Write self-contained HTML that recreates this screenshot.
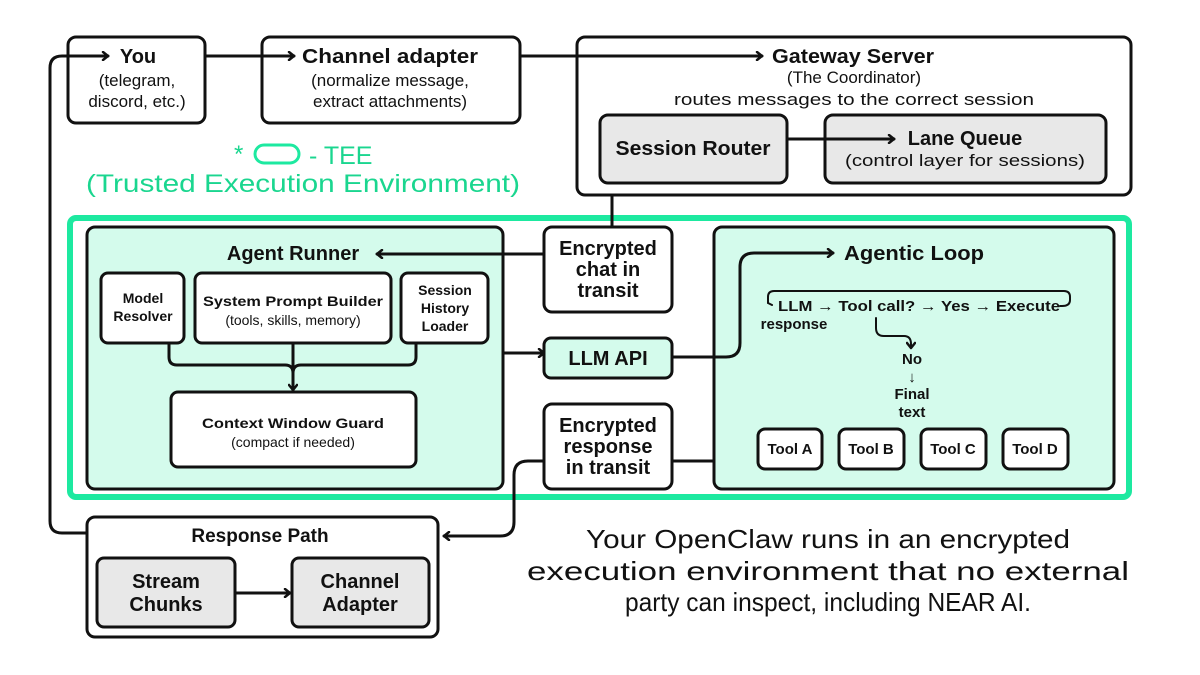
<!DOCTYPE html>
<html><head><meta charset="utf-8"><style>
html,body{margin:0;padding:0;background:#fff;}
svg{display:block;}
text{font-family:"Liberation Sans","DejaVu Sans",sans-serif;fill:#111;}
.b{font-weight:bold;}
</style></head><body>
<svg width="1200" height="675" viewBox="0 0 1200 675" xmlns="http://www.w3.org/2000/svg">
<defs>
<marker id="a" markerWidth="10" markerHeight="10" refX="7" refY="5" orient="auto" markerUnits="userSpaceOnUse">
<path d="M2,1 L7,5 L2,9" fill="none" stroke="#111" stroke-width="2.5" stroke-linecap="round" stroke-linejoin="round"/>
</marker>
</defs>
<g stroke="#111" stroke-width="3" fill="none">
<rect x="68" y="37" width="137" height="86" rx="8" fill="#fff"/>
<rect x="262" y="37" width="258" height="86" rx="8" fill="#fff"/>
<rect x="577" y="37" width="554" height="158" rx="8" fill="#fff"/>
<rect x="600" y="115" width="187" height="68" rx="8" fill="#e8e8e8"/>
<rect x="825" y="115" width="281" height="68" rx="8" fill="#e8e8e8"/>
</g>
<rect x="70" y="218" width="1059" height="279" rx="6" fill="#fff" stroke="#1de9a0" stroke-width="6"/>
<g stroke="#111" stroke-width="3" fill="none">
<rect x="87" y="227" width="416" height="262" rx="8" fill="#d4fbec"/>
<rect x="101" y="273" width="83" height="70" rx="7" fill="#fff"/>
<rect x="195" y="273" width="196" height="70" rx="7" fill="#fff"/>
<rect x="401" y="273" width="87" height="70" rx="7" fill="#fff"/>
<rect x="171" y="392" width="245" height="75" rx="7" fill="#fff"/>
<rect x="544" y="227" width="128" height="85" rx="8" fill="#fff"/>
<rect x="544" y="338" width="128" height="40" rx="7" fill="#d4fbec"/>
<rect x="544" y="404" width="128" height="85" rx="8" fill="#fff"/>
<rect x="714" y="227" width="400" height="262" rx="8" fill="#d4fbec"/>
<rect x="758" y="429" width="64" height="40" rx="7" fill="#fff"/>
<rect x="839" y="429" width="65" height="40" rx="7" fill="#fff"/>
<rect x="921" y="429" width="65" height="40" rx="7" fill="#fff"/>
<rect x="1003" y="429" width="65" height="40" rx="7" fill="#fff"/>
<rect x="87" y="517" width="351" height="120" rx="8" fill="#fff"/>
<rect x="97" y="558" width="138" height="69" rx="7" fill="#e8e8e8"/>
<rect x="292" y="558" width="137" height="69" rx="7" fill="#e8e8e8"/>
</g>
<g stroke="#111" stroke-width="3" fill="none" stroke-linecap="round">
<path d="M87,533 H62 Q50,533 50,521 V68 Q50,56 62,56 H108" marker-end="url(#a)"/>
<path d="M205,56 H294" marker-end="url(#a)"/>
<path d="M520,56 H762" marker-end="url(#a)"/>
<path d="M787,139 H894" marker-end="url(#a)"/>
<path d="M612,195 V227"/>
<path d="M544,254 H377" marker-end="url(#a)"/>
<path d="M503,353 H544" marker-end="url(#a)"/>
<path d="M672,357 H726 Q740,357 740,343 V267 Q740,253 754,253 H833" marker-end="url(#a)"/>
<path d="M672,461 H714"/>
<path d="M544,461 H528 Q514,461 514,475 V522 Q514,536 500,536 H444" marker-end="url(#a)"/>
<path d="M235,593 H290" marker-end="url(#a)"/>
<path d="M169,343 V357 Q169,365 177,365 H285 Q293,365 293,373 V390" marker-end="url(#a)"/>
<path d="M293,343 V390"/>
<path d="M416,343 V357 Q416,365 408,365 H301 Q293,365 293,373"/>
<path d="M768,303 V297 Q768,291 774,291 H1064 Q1070,291 1070,297 V300 Q1070,306 1062,306 H1060" stroke-width="2"/>
<path d="M768,303 L772,305" stroke-width="2"/>
<path d="M876,318 V328 Q876,336 884,336 H904 Q911,336 911,344 V348" stroke-width="2" marker-end="url(#a)"/>
</g>
<g text-anchor="middle" lengthAdjust="spacingAndGlyphs">
<text x="138" y="63" font-size="20" class="b">You</text>
<text x="137" y="86" font-size="17">(telegram,</text>
<text x="137" y="107" font-size="17">discord, etc.)</text>
<text x="390" y="63" font-size="20" class="b" textLength="176" lengthAdjust="spacingAndGlyphs">Channel adapter</text>
<text x="390" y="86" font-size="17">(normalize message,</text>
<text x="390" y="107" font-size="17">extract attachments)</text>
<text x="853" y="63" font-size="20" class="b" textLength="162" lengthAdjust="spacingAndGlyphs">Gateway Server</text>
<text x="854" y="83" font-size="17">(The Coordinator)</text>
<text x="854" y="105" font-size="17" textLength="360" lengthAdjust="spacingAndGlyphs">routes messages to the correct session</text>
<text x="693" y="155" font-size="20" class="b" textLength="155" lengthAdjust="spacingAndGlyphs">Session Router</text>
<text x="965" y="145" font-size="20" class="b">Lane Queue</text>
<text x="965" y="166" font-size="17" textLength="240" lengthAdjust="spacingAndGlyphs">(control layer for sessions)</text>
<text x="303" y="192" font-size="25" style="fill:#1ad68f" textLength="434" lengthAdjust="spacingAndGlyphs">(Trusted Execution Environment)</text>
<text x="293" y="260" font-size="20" class="b">Agent Runner</text>
<text x="143" y="303" font-size="14" class="b">Model</text>
<text x="143" y="321" font-size="14" class="b">Resolver</text>
<text x="293" y="306" font-size="14" class="b" textLength="180" lengthAdjust="spacingAndGlyphs">System Prompt Builder</text>
<text x="293" y="325" font-size="14">(tools, skills, memory)</text>
<text x="445" y="295" font-size="14" class="b">Session</text>
<text x="445" y="313" font-size="14" class="b">History</text>
<text x="445" y="331" font-size="14" class="b">Loader</text>
<text x="293" y="428" font-size="14" class="b" textLength="182" lengthAdjust="spacingAndGlyphs">Context Window Guard</text>
<text x="293" y="447" font-size="14">(compact if needed)</text>
<text x="608" y="255" font-size="20" class="b">Encrypted</text>
<text x="608" y="276" font-size="20" class="b">chat in</text>
<text x="608" y="297" font-size="20" class="b">transit</text>
<text x="608" y="365" font-size="20" class="b">LLM API</text>
<text x="608" y="432" font-size="20" class="b">Encrypted</text>
<text x="608" y="453" font-size="20" class="b">response</text>
<text x="608" y="474" font-size="20" class="b">in transit</text>
<text x="914" y="260" font-size="20" class="b" textLength="140" lengthAdjust="spacingAndGlyphs">Agentic Loop</text>
<text x="794" y="329" font-size="15" class="b">response</text>
<text x="912" y="364" font-size="15" class="b">No</text>
<text x="912" y="382" font-size="15" class="b">↓</text>
<text x="912" y="399" font-size="15" class="b">Final</text>
<text x="912" y="417" font-size="15" class="b">text</text>
<text x="790" y="454" font-size="15" class="b">Tool A</text>
<text x="871" y="454" font-size="15" class="b">Tool B</text>
<text x="953" y="454" font-size="15" class="b">Tool C</text>
<text x="1035" y="454" font-size="15" class="b">Tool D</text>
<text x="260" y="542" font-size="19" class="b">Response Path</text>
<text x="166" y="588" font-size="20" class="b">Stream</text>
<text x="166" y="611" font-size="20" class="b">Chunks</text>
<text x="360" y="588" font-size="20" class="b">Channel</text>
<text x="360" y="611" font-size="20" class="b">Adapter</text>
<text x="828" y="548" font-size="26" textLength="484" lengthAdjust="spacingAndGlyphs">Your OpenClaw runs in an encrypted</text>
<text x="828" y="580" font-size="26" textLength="602" lengthAdjust="spacingAndGlyphs">execution environment that no external</text>
<text x="828" y="611" font-size="26" textLength="406" lengthAdjust="spacingAndGlyphs">party can inspect, including NEAR AI.</text>
</g>
<text x="778" y="311" font-size="15" class="b" textLength="282" lengthAdjust="spacingAndGlyphs">LLM → Tool call? →  Yes → Execute</text>
<text x="234" y="162" font-size="24" style="fill:#1ad68f">*</text>
<rect x="255" y="145" width="44" height="18" rx="9" fill="none" stroke="#1de9a0" stroke-width="3"/>
<text x="309" y="164" font-size="25" style="fill:#1ad68f">- TEE</text>
</svg>
</body></html>
